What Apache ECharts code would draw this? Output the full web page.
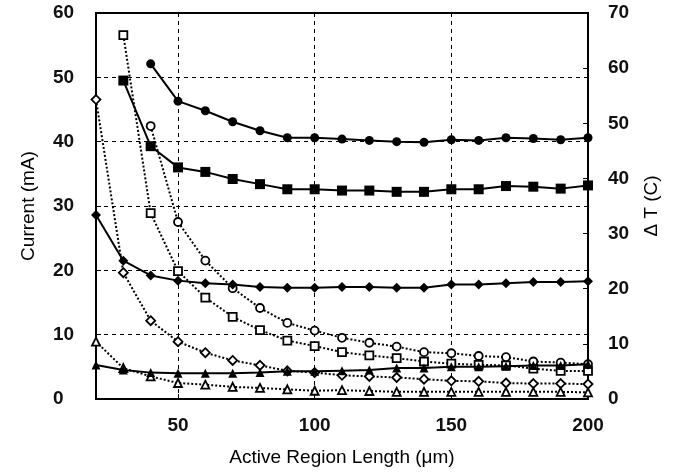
<!DOCTYPE html>
<html>
<head>
<meta charset="utf-8">
<script src="https://cdn.jsdelivr.net/npm/echarts@6/dist/echarts.min.js"></script>
<style>
  html, body { margin: 0; padding: 0; background: #fff; }
  #chart { width: 686px; height: 473px; }
</style>
</head>
<body>
<div id="chart"></div>
<script>
// active region length (um)
const lengths = [20, 30, 40, 50, 60, 70, 80, 90, 100, 110, 120, 130, 140, 150, 160, 170, 180, 190, 200];

// current (mA), solid lines, left axis
const currCircle  = [null, null, 52.1, 46.3, 44.8, 43.1, 41.7, 40.6, 40.6, 40.4, 40.2, 40.0, 39.9, 40.3, 40.2, 40.6, 40.5, 40.3, 40.6];
const currSquare  = [null, 49.5, 39.3, 36.0, 35.3, 34.2, 33.4, 32.6, 32.6, 32.4, 32.4, 32.2, 32.2, 32.6, 32.6, 33.1, 33.0, 32.7, 33.2];
const currDiamond = [28.6, 21.5, 19.2, 18.4, 18.0, 17.8, 17.4, 17.3, 17.3, 17.4, 17.4, 17.3, 17.3, 17.8, 17.8, 18.0, 18.2, 18.2, 18.3];
const currTri     = [5.3, 4.5, 4.1, 4.0, 4.0, 4.0, 4.1, 4.3, 4.3, 4.4, 4.5, 4.8, 4.8, 5.0, 5.0, 5.1, 5.2, 5.2, 5.4];

// delta T (C), dotted lines, right axis
const dtSquare  = [null, 66.0, 33.7, 23.2, 18.4, 14.9, 12.5, 10.6, 9.6, 8.5, 7.9, 7.4, 6.8, 6.4, 6.2, 6.1, 5.5, 5.1, 5.1];
const dtCircle  = [null, null, 49.5, 32.1, 25.1, 20.1, 16.5, 13.8, 12.4, 11.1, 10.2, 9.5, 8.5, 8.3, 7.8, 7.6, 6.8, 6.6, 6.3];
const dtDiamond = [54.3, 22.9, 14.2, 10.4, 8.4, 7.0, 6.1, 5.1, 4.8, 4.3, 4.1, 3.9, 3.6, 3.3, 3.2, 2.9, 2.8, 2.8, 2.7];
const dtTri     = [10.4, 5.6, 4.1, 2.9, 2.6, 2.2, 2.0, 1.75, 1.5, 1.6, 1.45, 1.3, 1.3, 1.3, 1.3, 1.3, 1.3, 1.3, 1.2];

const xTicks = [50, 100, 150, 200];

const font = 'Liberation Sans, Arial, sans-serif';

function pairs(vals) {
    let out = [];
    lengths.forEach(function(x, i) {
        if (vals[i] !== null) out.push([x, vals[i]]);
    });
    return out;
}

function solid(vals, symbol, size) {
    return {
        type: 'line',
        yAxisIndex: 0,
        data: pairs(vals),
        symbol: symbol,
        symbolSize: size,
        z: 3,
        lineStyle: { color: '#000', width: 2 },
        itemStyle: { color: '#000' }
    };
}

function dotted(vals, symbol, size) {
    return {
        type: 'line',
        yAxisIndex: 1,
        data: pairs(vals),
        symbol: symbol,
        symbolSize: size,
        z: 2,
        lineStyle: { color: '#000', width: 2, type: [2, 2] },
        itemStyle: { color: '#fff', borderColor: '#000', borderWidth: 1.8 }
    };
}

const tickLabel = { fontFamily: font, fontSize: 19, fontWeight: 'bold', color: '#111' };
const axisName = { fontFamily: font, fontSize: 19, color: '#000' };

let chart = echarts.init(document.getElementById('chart'));
chart.setOption({
    animation: false,
    grid: {
        left: 96, right: 98, top: 13, bottom: 74,
        show: true, borderColor: '#000', borderWidth: 2
    },
    xAxis: {
        type: 'value',
        min: 20,
        max: 200,
        name: 'Active Region Length (\u03bcm)',
        nameLocation: 'middle',
        nameGap: 49,
        nameTextStyle: axisName,
        axisLine: { lineStyle: { color: '#000', width: 2 } },
        axisTick: { show: true, inside: true, length: 5, customValues: xTicks, lineStyle: { color: '#000' } },
        axisLabel: Object.assign({ customValues: xTicks, margin: 17 }, tickLabel),
        splitLine: { show: true, lineStyle: { color: '#000', width: 1, type: [4, 4] } }
    },
    yAxis: [
        {
            type: 'value',
            min: 0, max: 60, interval: 10,
            name: 'Current (mA)',
            nameLocation: 'middle',
            nameGap: 58,
            nameTextStyle: axisName,
            axisLine: { show: true, lineStyle: { color: '#000', width: 2 } },
            axisTick: { show: true, inside: true, length: 5, lineStyle: { color: '#000' } },
            axisLabel: Object.assign({ align: 'left', margin: 43 }, tickLabel),
            splitLine: { show: true, lineStyle: { color: '#000', width: 1, type: [4, 4] } }
        },
        {
            type: 'value',
            min: 0, max: 70, interval: 10,
            name: '\u0394 T (C)',
            nameLocation: 'middle',
            nameRotate: 90,
            nameGap: 54,
            nameTextStyle: axisName,
            axisLine: { show: true, lineStyle: { color: '#000', width: 2 } },
            axisTick: { show: true, inside: true, length: 5, lineStyle: { color: '#000' } },
            axisLabel: Object.assign({ margin: 20 }, tickLabel),
            splitLine: { show: false }
        }
    ],
    series: [
        dotted(dtSquare, 'rect', 8),
        dotted(dtCircle, 'circle', 8),
        dotted(dtDiamond, 'diamond', 9),
        dotted(dtTri, 'triangle', 8),
        solid(currCircle, 'circle', 9),
        solid(currSquare, 'rect', 10),
        solid(currDiamond, 'diamond', 10),
        solid(currTri, 'triangle', 9)
    ]
});
</script>
</body>
</html>
